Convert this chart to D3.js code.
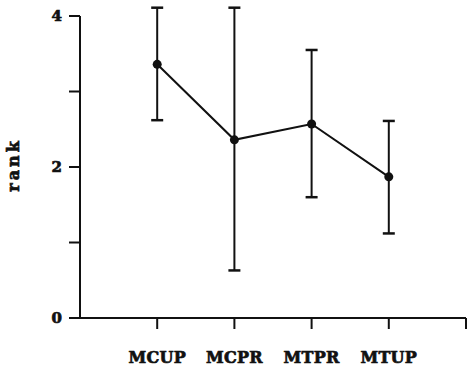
<!DOCTYPE html>
<html>
<head>
<meta charset="utf-8">
<script src="https://cdn.jsdelivr.net/npm/d3@7"></script>
<style>
  body { margin: 0; background: #fff; }
  text { font-family: "DejaVu Serif", serif; font-weight: bold; fill: #111; stroke: #111; stroke-width: 0.7px; }
</style>
</head>
<body>
<svg width="467" height="373"></svg>
<script>
// values
var groups = ["MCUP", "MCPR", "MTPR", "MTUP"];
var means  = [3.36, 2.36, 2.57, 1.87];
var upper  = [4.11, 4.11, 3.55, 2.61];
var lower  = [2.62, 0.63, 1.60, 1.12];
var yMajor = [0, 2, 4];
var yMinor = [1, 3];

function main() {
    var svg = d3.select("svg");
    var plotLeft = 80, plotRight = 466, plotTop = 16, plotBottom = 318;

    var x = d3.scaleLinear().domain([0, 5]).range([plotLeft, plotRight]);
    var y = d3.scaleLinear().domain([0, 4]).range([plotBottom, plotTop]);

    var data = groups.map(function(g, i) {
        return {name: g, pos: i + 1, mean: means[i], hi: upper[i], lo: lower[i]};
    });

    // y axis
    svg.append("line")
        .attr("x1", plotLeft).attr("x2", plotLeft)
        .attr("y1", y(4)).attr("y2", y(0))
        .attr("stroke", "#111").attr("stroke-width", 2);

    svg.selectAll(".ytick")
        .data(yMajor.concat(yMinor))
        .enter().append("line")
        .attr("x1", plotLeft - 11).attr("x2", plotLeft)
        .attr("y1", function(d){ return y(d); })
        .attr("y2", function(d){ return y(d); })
        .attr("stroke", "#111").attr("stroke-width", 2);

    svg.selectAll(".ylab")
        .data(yMajor)
        .enter().append("text")
        .attr("x", plotLeft - 18)
        .attr("y", function(d){ return y(d); })
        .attr("dy", "0.35em")
        .attr("text-anchor", "end")
        .attr("font-size", "15px")
        .text(function(d){ return d; });

    svg.append("text")
        .attr("transform", "translate(19,165) rotate(-90)")
        .attr("text-anchor", "middle")
        .attr("font-size", "16px")
        .attr("letter-spacing", "3px")
        .text("rank");

    // x axis
    svg.append("line")
        .attr("x1", plotLeft).attr("x2", plotRight)
        .attr("y1", plotBottom).attr("y2", plotBottom)
        .attr("stroke", "#111").attr("stroke-width", 2);

    svg.selectAll(".xtick")
        .data([1, 2, 3, 4, 5])
        .enter().append("line")
        .attr("x1", function(d){ return x(d); })
        .attr("x2", function(d){ return x(d); })
        .attr("y1", plotBottom).attr("y2", plotBottom + 11)
        .attr("stroke", "#111").attr("stroke-width", 2);

    svg.selectAll(".xlab")
        .data(data)
        .enter().append("text")
        .attr("x", function(d){ return x(d.pos); })
        .attr("y", 357)
        .attr("dy", "0.35em")
        .attr("text-anchor", "middle")
        .attr("font-size", "16px")
        .attr("letter-spacing", "0.3px")
        .text(function(d){ return d.name; });

    // error bars
    var eb = svg.selectAll(".eb").data(data).enter().append("g");
    eb.append("line")
        .attr("x1", function(d){ return x(d.pos); })
        .attr("x2", function(d){ return x(d.pos); })
        .attr("y1", function(d){ return y(d.hi); })
        .attr("y2", function(d){ return y(d.lo); })
        .attr("stroke", "#111").attr("stroke-width", 2);
    eb.append("line")
        .attr("x1", function(d){ return x(d.pos) - 6; })
        .attr("x2", function(d){ return x(d.pos) + 6; })
        .attr("y1", function(d){ return y(d.hi); })
        .attr("y2", function(d){ return y(d.hi); })
        .attr("stroke", "#111").attr("stroke-width", 2.5);
    eb.append("line")
        .attr("x1", function(d){ return x(d.pos) - 6; })
        .attr("x2", function(d){ return x(d.pos) + 6; })
        .attr("y1", function(d){ return y(d.lo); })
        .attr("y2", function(d){ return y(d.lo); })
        .attr("stroke", "#111").attr("stroke-width", 2.5);

    // mean line
    var line = d3.line()
        .x(function(d){ return x(d.pos); })
        .y(function(d){ return y(d.mean); });

    svg.append("path")
        .datum(data)
        .attr("d", line)
        .attr("fill", "none")
        .attr("stroke", "#111")
        .attr("stroke-width", 2);

    svg.selectAll(".pt")
        .data(data)
        .enter().append("circle")
        .attr("cx", function(d){ return x(d.pos); })
        .attr("cy", function(d){ return y(d.mean); })
        .attr("r", 4.5)
        .attr("fill", "#111");
}
main();
</script>
</body>
</html>
